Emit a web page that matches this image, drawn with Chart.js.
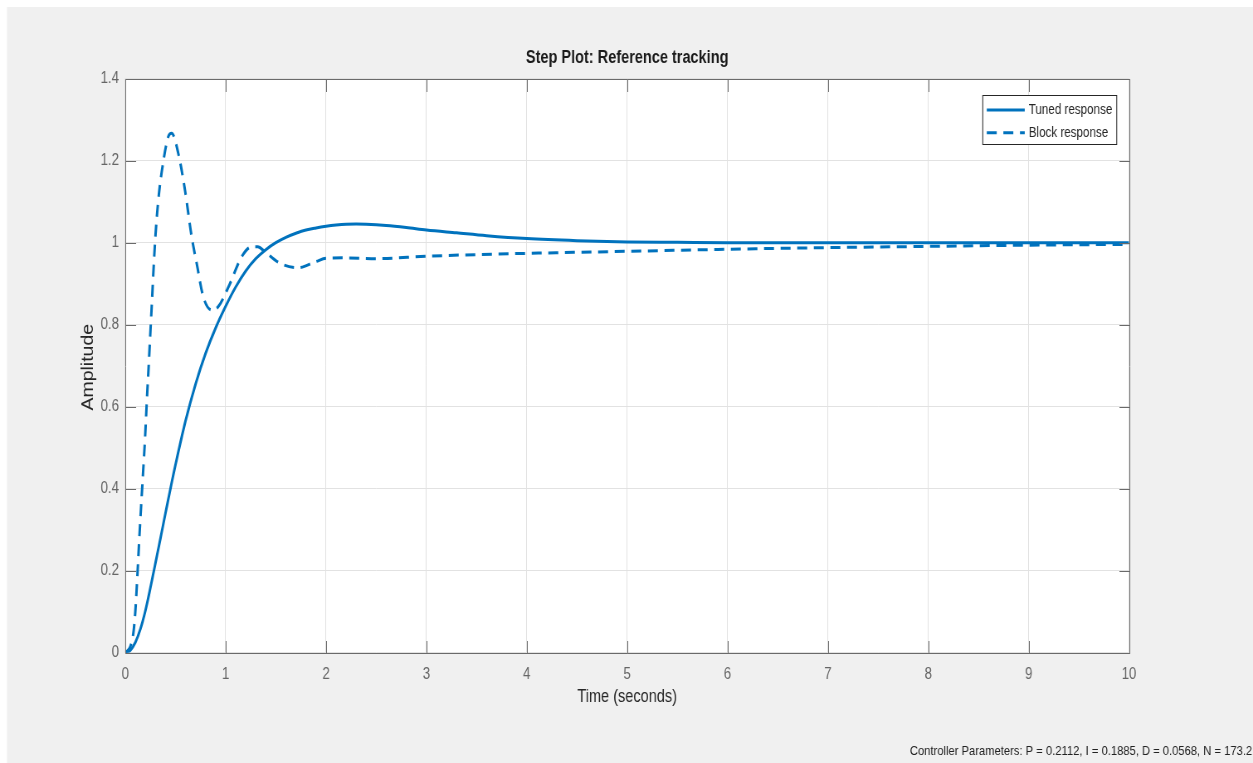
<!DOCTYPE html>
<html>
<head>
<meta charset="utf-8">
<title>Step Plot: Reference tracking</title>
<script src="https://cdn.jsdelivr.net/npm/chart.js@4.4.1/dist/chart.umd.min.js"></script>
<style>
  html, body { margin: 0; padding: 0; background: #ffffff; overflow: hidden; }
</style>
</head>
<body>
<canvas id="plot" width="1510" height="763" style="display:block;width:1253px;height:763px"></canvas>
<script>
// Step response data: time in seconds, amplitude (unitless)
const tunedTime = [0, 0.05, 0.1, 0.15, 0.2, 0.25, 0.3, 0.35, 0.4, 0.45, 0.5, 0.6, 0.7, 0.8, 0.9,
  1.0, 1.1, 1.2, 1.3, 1.4, 1.5, 1.6, 1.7, 1.8, 1.9, 2.0, 2.1, 2.2, 2.3, 2.4, 2.6, 2.8, 3.0, 3.3, 3.6, 4.0, 4.5,
  5.0, 5.5, 6, 7, 8, 9, 10];
const tunedAmp = [0, 0.006, 0.025, 0.057, 0.102, 0.158, 0.218, 0.278, 0.34, 0.4, 0.458, 0.565, 0.655, 0.73, 0.792,
  0.845, 0.892, 0.931, 0.961, 0.983, 1.0, 1.013, 1.023, 1.031, 1.036, 1.04, 1.043, 1.045, 1.0455, 1.045, 1.042, 1.037, 1.031, 1.024, 1.017, 1.01, 1.005,
  1.002, 1.001, 1.0, 1.0, 1.0, 1.0, 1.0];

const blockTime = [0, 0.05, 0.08, 0.1, 0.123, 0.14, 0.163, 0.18, 0.196, 0.22, 0.229, 0.263, 0.296, 0.329, 0.379,
  0.429, 0.462, 0.528, 0.595, 0.661, 0.711, 0.777, 0.86, 0.926, 1.03, 1.16, 1.26, 1.32, 1.39, 1.54,
  1.72, 1.9, 2.0, 2.2, 2.5, 3.0, 3.5, 4.0, 5, 6, 7, 8, 9, 10];
const blockAmp = [0, 0.015, 0.047, 0.1, 0.2, 0.28, 0.38, 0.45, 0.519, 0.64, 0.68, 0.844, 0.999, 1.104, 1.198,
  1.259, 1.267, 1.218, 1.128, 1.015, 0.95, 0.868, 0.836, 0.844, 0.893, 0.966, 0.99, 0.99, 0.978, 0.95,
  0.939, 0.954, 0.962, 0.963, 0.961, 0.967, 0.971, 0.974, 0.979, 0.984, 0.988, 0.991, 0.994, 0.996];

const seriesNames = ['Tuned response', 'Block response'];
const xTickLabels = ['0', '1', '2', '3', '4', '5', '6', '7', '8', '9', '10'];
const yTickLabels = ['0', '0.2', '0.4', '0.6', '0.8', '1', '1.2', '1.4'];

const titleText = 'Step Plot: Reference tracking';
const xTitle = 'Time (seconds)';
const yTitle = 'Amplitude';
const footText = 'Controller Parameters: P = 0.2112, I = 0.1885, D = 0.0568, N = 173.2';

// The canvas backing store is wider than its on-screen box, so glyphs and
// strokes come out slightly condensed horizontally. SX converts screen x to canvas x.
const SX = 0.83;
const W = 1510, H = 763;
const cx = v => v / SX;

const PLOT = { left: cx(125.3), right: cx(1129.3), top: 78.7, bottom: 652.7 };
const BLUE = '#0072BD';
const AXIS = '#6a6a6a';
const GRID = '#e2e2e2';
const FONT = '"Liberation Sans", Arial, Helvetica, sans-serif';

const toPoints = (ts, vs) => ts.map((t, i) => ({ x: t, y: vs[i] }));

const frame = {
  id: 'frame',
  beforeDraw(chart) {
    const { ctx, chartArea: a } = chart;
    ctx.save();
    ctx.fillStyle = '#ffffff';
    ctx.fillRect(0, 0, W, H);
    ctx.fillStyle = '#f0f0f0';
    ctx.fillRect(cx(7), 7, W, H);
    ctx.fillStyle = '#ffffff';
    ctx.fillRect(a.left, a.top, a.right - a.left, a.bottom - a.top);
    ctx.restore();
  },
  afterDatasetsDraw(chart) {
    const { ctx, chartArea: a, scales: { x, y } } = chart;
    const L = Math.round(a.left) + 0.5, R = Math.round(a.right) + 0.5;
    const T = Math.round(a.top) + 0.5, B = Math.round(a.bottom) + 0.5;
    const tl = 12.5;
    ctx.save();
    ctx.strokeStyle = AXIS;
    ctx.lineWidth = 1;
    ctx.beginPath();
    ctx.rect(L, T, R - L, B - T);
    x.ticks.forEach(t => {
      const px = Math.round(x.getPixelForValue(t.value)) + 0.5;
      ctx.moveTo(px, B); ctx.lineTo(px, B - tl);
      ctx.moveTo(px, T); ctx.lineTo(px, T + tl);
    });
    y.ticks.forEach(t => {
      const py = Math.round(y.getPixelForValue(t.value)) + 0.5;
      ctx.moveTo(L, py); ctx.lineTo(L + tl, py);
      ctx.moveTo(R, py); ctx.lineTo(R - tl, py);
    });
    ctx.stroke();

    // legend
    const lx0 = cx(983), lx1 = cx(1117), ly0 = 95.5, ly1 = 144.5;
    ctx.fillStyle = '#ffffff';
    ctx.fillRect(lx0, ly0, lx1 - lx0, ly1 - ly0);
    ctx.strokeStyle = '#262626';
    ctx.strokeRect(lx0, ly0, lx1 - lx0, ly1 - ly0);
    const rows = [110, 132.7];
    chart.data.datasets.forEach((ds, i) => {
      const ry = rows[i];
      ctx.beginPath();
      ctx.strokeStyle = ds.borderColor;
      ctx.lineWidth = ds.borderWidth;
      ctx.setLineDash(ds.borderDash || []);
      ctx.moveTo(cx(987), ry);
      ctx.lineTo(cx(1025), ry);
      ctx.stroke();
      ctx.setLineDash([]);
      ctx.fillStyle = '#262626';
      ctx.font = '14px ' + FONT;
      ctx.textAlign = 'left';
      ctx.textBaseline = 'middle';
      ctx.fillText(ds.label, cx(1029), ry + 0.5);
    });

    // titles
    const mid = (a.left + a.right) / 2;
    ctx.fillStyle = '#1a1a1a';
    ctx.textAlign = 'center';
    ctx.textBaseline = 'middle';
    ctx.font = 'bold 17.5px ' + FONT;
    ctx.fillText(titleText, mid, 58);
    ctx.fillStyle = '#262626';
    ctx.font = '17.5px ' + FONT;
    ctx.fillText(xTitle, mid, 697.5);
    ctx.save();
    ctx.translate(cx(88.5), (a.top + a.bottom) / 2 + 1.5);
    ctx.rotate(-Math.PI / 2);
    ctx.font = '19.5px ' + FONT;
    ctx.fillText(yTitle, 0, 0);
    ctx.restore();

    ctx.fillStyle = '#222222';
    ctx.textAlign = 'right';
    ctx.font = '13.5px ' + FONT;
    ctx.fillText(footText, cx(1252.5), 751);
    ctx.restore();
  }
};

new Chart(document.getElementById('plot'), {
  type: 'line',
  data: {
    datasets: [
      {
        label: seriesNames[0],
        data: toPoints(tunedTime, tunedAmp),
        borderColor: BLUE,
        borderWidth: 3,
        pointRadius: 0,
        cubicInterpolationMode: 'monotone',
        fill: false
      },
      {
        label: seriesNames[1],
        data: toPoints(blockTime, blockAmp),
        borderColor: BLUE,
        borderWidth: 3,
        borderDash: [12, 8],
        pointRadius: 0,
        cubicInterpolationMode: 'monotone',
        fill: false
      }
    ]
  },
  options: {
    responsive: false,
    devicePixelRatio: 1,
    animation: false,
    events: [],
    layout: { padding: { top: PLOT.top, left: 0, right: W - PLOT.right, bottom: 0 } },
    plugins: { legend: { display: false }, title: { display: false }, tooltip: { enabled: false } },
    scales: {
      x: {
        type: 'linear',
        min: 0, max: 10,
        offset: false,
        border: { display: false },
        grid: { color: GRID, lineWidth: 1, drawTicks: false },
        ticks: {
          stepSize: 1,
          padding: 12,
          color: '#666666',
          font: { family: FONT, size: 16 },
          maxRotation: 0,
          callback: (v, i) => xTickLabels[i]
        },
        afterFit: s => { s.height = H - PLOT.bottom; }
      },
      y: {
        type: 'linear',
        min: 0, max: 1.4,
        border: { display: false },
        grid: { color: GRID, lineWidth: 1, drawTicks: false },
        ticks: {
          stepSize: 0.2,
          padding: 7.5,
          color: '#666666',
          font: { family: FONT, size: 16 },
          callback: (v, i) => yTickLabels[i]
        },
        afterFit: s => { s.width = PLOT.left; }
      }
    }
  },
  plugins: [frame]
});
</script>
</body>
</html>
